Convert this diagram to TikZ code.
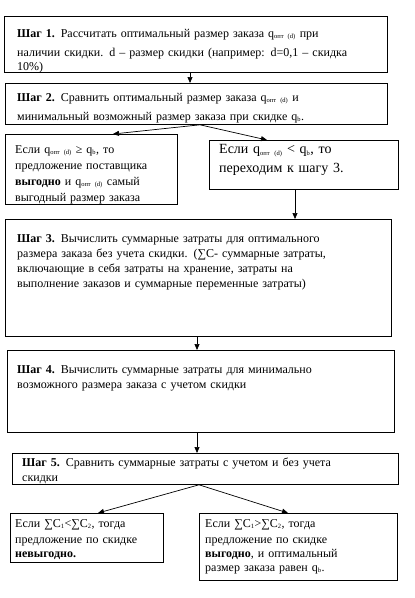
\documentclass[tikz,border=0pt]{standalone}
\usepackage{fontspec}
\setmainfont{Liberation Serif}
\usetikzlibrary{arrows.meta,calc}
\newcommand\sbs[1]{\textsubscript{\fontsize{6.5}{7}\selectfont #1}}
\newcommand\boxnode[5]{\node[box,anchor=north west,minimum width={#4-#2},minimum height={#5-#3}] (#1) at (#2,#3) {};}
\begin{document}
\begin{tikzpicture}[x=1pt,y=-1pt,
  box/.style={draw,line width=0.8pt,inner sep=0pt,fill=white},
  txt/.style={anchor=base west,inner sep=0pt,align=left,text width=390pt,font=\fontsize{12}{15}\selectfont},
  arr/.style={-{Triangle[length=6pt,width=5pt]},line width=0.7pt}]
\useasboundingbox[fill=white] (0,0) rectangle (415,598);
\boxnode{b1}{4}{16}{387}{72}
\boxnode{b2}{5}{83}{387}{124}
\boxnode{b2a}{5}{134}{177}{204}
\boxnode{b2b}{209}{140}{398}{189}
\boxnode{b3}{5}{219}{391}{336}
\boxnode{b4}{7}{350}{394}{432}
\boxnode{b5}{12}{453}{398}{484}
\boxnode{b6a}{10}{513}{163}{562}
\boxnode{b6b}{199}{513}{397}{580}

\node[txt] (t1) at (17,37) {\textbf{Шаг 1.} Рассчитать оптимальный размер заказа q\sbs{опт (d)} при\\[4pt]наличии скидки. d – размер скидки  (например: d=0,1 – скидка\\[-1pt]10\%)};
\node[txt] (t2) at (17,101) {\textbf{Шаг 2.} Сравнить оптимальный размер заказа q\sbs{опт (d)} и\\[4pt]минимальный возможный размер заказа при скидке q\sbs{b}.};
\node[txt] (t2a) at (15,153) {Если q\sbs{опт (d)} ≥ q\sbs{b}, то\\[1pt]предложение поставщика\\[1pt]\textbf{выгодно} и q\sbs{опт (d)} самый\\[1pt]выгодный размер заказа};
\node[txt,font=\fontsize{14}{19}\selectfont] (t2b) at (219,153) {Если q\sbs{опт (d)} < q\sbs{b}, то\\переходим к шагу 3.};
\node[txt] (t3) at (17,242) {\textbf{Шаг 3.} Вычислить  суммарные затраты для оптимального\\размера заказа без учета скидки. (∑C- суммарные затраты,\\включающие в себя затраты на хранение, затраты на\\выполнение заказов и суммарные переменные затраты)};
\node[txt] (t4) at (17,373) {\textbf{Шаг 4.} Вычислить  суммарные затраты для минимально\\возможного размера заказа с учетом скидки};
\node[txt] (t5) at (22,466) {\textbf{Шаг 5.} Сравнить суммарные затраты с учетом и без учета\\скидки};
\node[txt] (t6a) at (15,527) {Если ∑C\sbs{1}<∑C\sbs{2}, тогда\\[1pt]предложение по скидке\\[-1pt]\textbf{невыгодно.}};
\node[txt] (t6b) at (205,527) {Если ∑C\sbs{1}>∑C\sbs{2}, тогда\\[1pt]предложение по скидке\\[-1pt]\textbf{выгодно}, и оптимальный\\[-1pt]размер заказа равен q\sbs{b}.};

\draw[arr] (b1.south -| 190,0) -- (b2.north -| 190,0);
\coordinate (s2) at (b2.south -| 200,0);
\draw[arr] (s2) -- (b2a.north -| 113,0);
\draw[arr] (s2) -- (b2b.north -| 267,0);
\draw[arr] (b2b.south -| 295,0) -- (b3.north -| 295,0);
\draw[arr] (b3.south -| 197,0) -- (b4.north -| 197,0);
\draw[arr] (b4.south -| 197,0) -- (b5.north -| 197,0);
\coordinate (s5) at (b5.south -| 199,0);
\draw[arr] (s5) -- (b6a.north -| 98,0);
\draw[arr] (s5) -- (b6b.north -| 288,0);
\end{tikzpicture}
\end{document}
